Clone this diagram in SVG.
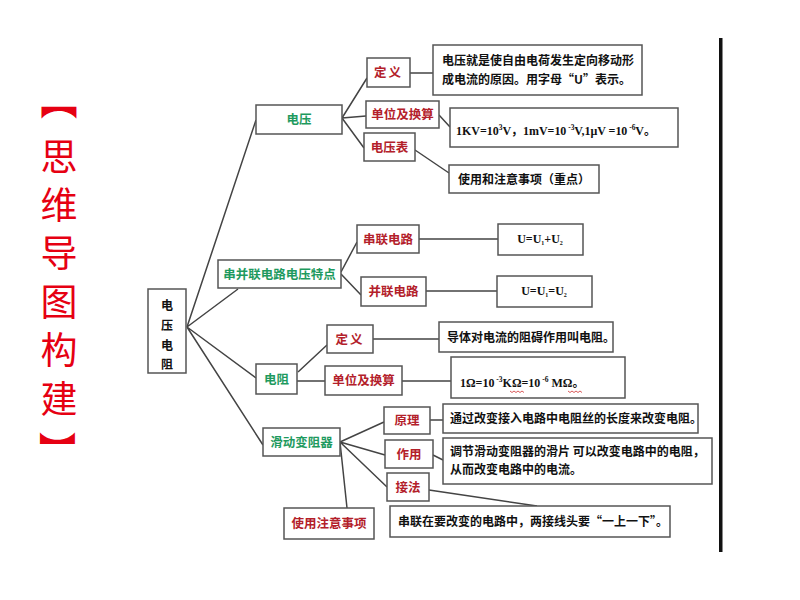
<svg xmlns="http://www.w3.org/2000/svg" width="800" height="600" viewBox="0 0 800 600">
<style>
.bx{fill:#fff;stroke:#555;stroke-width:1.5}
.ln{stroke:#444;stroke-width:1.5;fill:none}
.g{fill:#1e9a5e;font-family:"Noto Sans CJK SC",sans-serif;font-weight:700;font-size:12.5px;text-anchor:middle}
.r{fill:#b3202a;font-family:"Noto Sans CJK SC",sans-serif;font-weight:700;font-size:12.5px;text-anchor:middle}
.t{fill:#111;font-family:"Noto Sans CJK SC",sans-serif;font-weight:700;font-size:12px}
.f{fill:#111;font-family:"Liberation Serif","Noto Sans CJK SC",serif;font-weight:700;font-size:12px}
.ti{fill:#e60012;font-family:"Noto Sans CJK SC",sans-serif;font-size:37px;text-anchor:middle}
.sq{stroke:#d03030;stroke-width:0.8;fill:none}
</style>
<rect width="800" height="600" fill="#fff"/>
<g id="title">
<text class="ti" x="59" y="115" font-weight="700">︻</text>
<text class="ti" x="59" y="171">思</text>
<text class="ti" x="59" y="219">维</text>
<text class="ti" x="59" y="267">导</text>
<text class="ti" x="59" y="316">图</text>
<text class="ti" x="59" y="364">构</text>
<text class="ti" x="59" y="413">建</text>
<g transform="translate(59 450) rotate(90)"><text class="ti" x="0" y="0" dominant-baseline="central" font-weight="700">】</text></g>
</g>
<rect x="719" y="38" width="3.5" height="514" fill="#111"/>
<g id="connectors">
<path class="ln" d="M187 327L256 120M187 327L238 289M187 327L256 378M187 327L263 445"/>
<path class="ln" d="M342 118L367 78M342 118L366 116M342 118L364 148M410 73L433 73M439 115L450 127M415 150L449 173"/>
<path class="ln" d="M341 272L357 242M341 274L361 295M419 239L498 239M426 291L497 291"/>
<path class="ln" d="M298 372L327 345M297 381L325 381M373 339L439 339M402 381L451 381"/>
<path class="ln" d="M340 442L384 422M340 442L385 455M340 442L387 487M340 442L347 508M430 420L443 420M433 455L443 460M429 490L537 506"/>
</g>
<g id="root"><rect class="bx" x="148" y="289" width="38" height="84"/>
<text class="t" x="167" y="310" text-anchor="middle" font-size="13">电</text>
<text class="t" x="167" y="330" text-anchor="middle" font-size="13">压</text>
<text class="t" x="167" y="350" text-anchor="middle" font-size="13">电</text>
<text class="t" x="167" y="369" text-anchor="middle" font-size="13">阻</text></g>
<g id="n-dianya"><rect class="bx" x="256" y="105" width="86" height="29"/><text class="g" x="299" y="124">电压</text></g>
<g id="n-dy-def"><rect class="bx" x="367" y="58" width="43" height="29"/><text class="r" x="388.5" y="77" letter-spacing="2">定义</text></g>
<g id="n-dy-unit"><rect class="bx" x="366" y="101" width="73" height="27"/><text class="r" x="402.5" y="119">单位及换算</text></g>
<g id="n-dy-meter"><rect class="bx" x="364" y="133" width="51" height="28"/><text class="r" x="389.5" y="151.5">电压表</text></g>
<g id="d-dy-def"><rect class="bx" x="433" y="45" width="209" height="50"/>
<text class="t" x="442" y="65">电压就是使自由电荷发生定向移动形</text>
<text class="t" x="442" y="84">成电流的原因。用字母“U”表示。</text></g>
<g id="d-dy-unit"><rect class="bx" x="450" y="108" width="228" height="39"/>
<text class="f" x="456" y="135" textLength="200">1KV=10<tspan font-size="7.5" dy="-5">3</tspan><tspan dy="5">V，1mV=10</tspan><tspan font-size="7.5" dy="-5"> -3</tspan><tspan dy="5">V,1μV =10</tspan><tspan font-size="7.5" dy="-5"> -6</tspan><tspan dy="5">V。</tspan></text></g>
<g id="d-dy-meter"><rect class="bx" x="449" y="165" width="150" height="28"/><text class="t" x="458" y="183.5">使用和注意事项（重点）</text></g>
<g id="n-series-parallel"><rect class="bx" x="218" y="260" width="123" height="28"/><text class="g" x="279.5" y="278.5">串并联电路电压特点</text></g>
<g id="n-series"><rect class="bx" x="357" y="225" width="62" height="28"/><text class="r" x="388" y="243.5">串联电路</text></g>
<g id="n-parallel"><rect class="bx" x="361" y="277" width="65" height="29"/><text class="r" x="393.5" y="296">并联电路</text></g>
<g id="d-series"><rect class="bx" x="498" y="224" width="85" height="31"/><text class="f" x="540" y="243" text-anchor="middle" font-size="10">U=U<tspan font-size="6" dy="2">1</tspan><tspan dy="-2">+U</tspan><tspan font-size="6" dy="2">2</tspan></text></g>
<g id="d-parallel"><rect class="bx" x="497" y="276" width="95" height="31"/><text class="f" x="544" y="295" text-anchor="middle" font-size="10">U=U<tspan font-size="6" dy="2">1</tspan><tspan dy="-2">=U</tspan><tspan font-size="6" dy="2">2</tspan></text></g>
<g id="n-dianzu"><rect class="bx" x="256" y="364" width="41" height="30"/><text class="g" x="276.5" y="383.5">电阻</text></g>
<g id="n-dz-def"><rect class="bx" x="327" y="325" width="46" height="28"/><text class="r" x="350" y="343.5" letter-spacing="2">定义</text></g>
<g id="n-dz-unit"><rect class="bx" x="325" y="366" width="77" height="29"/><text class="r" x="363.5" y="385">单位及换算</text></g>
<g id="d-dz-def"><rect class="bx" x="439" y="322" width="174" height="30"/><text class="t" x="447" y="341.5" font-size="11.6">导体对电流的阻碍作用叫电阻。</text></g>
<g id="d-dz-unit"><rect class="bx" x="451" y="357" width="174" height="41"/>
<text class="f" x="460" y="387">1Ω=10<tspan font-size="7.5" dy="-5"> -3</tspan><tspan dy="5">KΩ=10</tspan><tspan font-size="7.5" dy="-5"> -6</tspan><tspan dy="5">   MΩ。</tspan></text>
<path class="sq" d="M510 391l2 1.5 2-1.5 2 1.5 2-1.5 2 1.5 2-1.5 2 1.5M568 391l2 1.5 2-1.5 2 1.5 2-1.5 2 1.5 2-1.5 2 1.5"/></g>
<g id="n-rheostat"><rect class="bx" x="263" y="428" width="77" height="28"/><text class="g" x="301.5" y="446.5">滑动变阻器</text></g>
<g id="n-principle"><rect class="bx" x="384" y="407" width="46" height="27"/><text class="r" x="407" y="425">原理</text></g>
<g id="n-function"><rect class="bx" x="385" y="440" width="48" height="28"/><text class="r" x="409" y="458.5">作用</text></g>
<g id="n-connect"><rect class="bx" x="387" y="473" width="42" height="28"/><text class="r" x="408" y="491.5">接法</text></g>
<g id="n-notes"><rect class="bx" x="284" y="508" width="90" height="31"/><text class="r" x="329" y="528">使用注意事项</text></g>
<g id="d-principle"><rect class="bx" x="443" y="404" width="255" height="29"/><text class="t" x="450" y="423" font-size="11.3">通过改变接入电路中电阻丝的长度来改变电阻。</text></g>
<g id="d-function"><rect class="bx" x="443" y="438" width="269" height="46"/>
<text class="t" x="450" y="456" font-size="11.5">调节滑动变阻器的滑片 可以改变电路中的电阻，</text>
<text class="t" x="450" y="474" font-size="11.5">从而改变电路中的电流。</text></g>
<g id="d-connect"><rect class="bx" x="390" y="506" width="280" height="31"/><text class="t" x="398" y="526" font-size="11.8">串联在要改变的电路中，两接线头要“一上一下”。</text></g>
</svg>
